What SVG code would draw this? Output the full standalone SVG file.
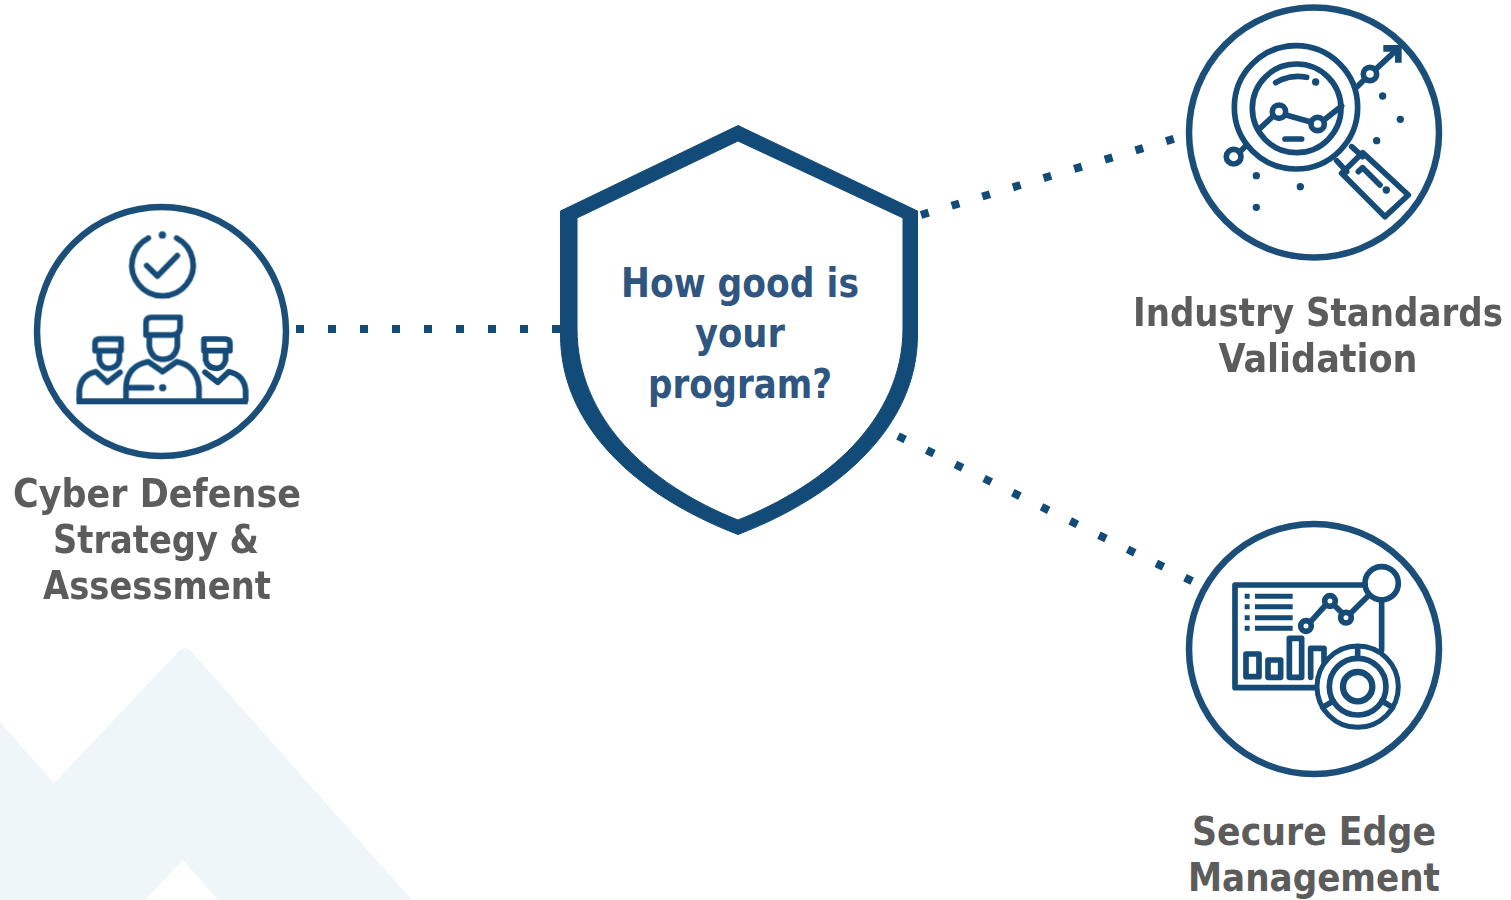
<svg xmlns="http://www.w3.org/2000/svg" width="1511" height="900" viewBox="0 0 1511 900">
<defs><filter id="soft" x="-5%" y="-5%" width="110%" height="110%"><feGaussianBlur stdDeviation="0.5"/></filter></defs>
<style>
.ring{fill:#fff;stroke:#1b4f7a;stroke-width:6.5}
.ic{fill:none;stroke:#134b78;stroke-width:17;stroke-linecap:round;stroke-linejoin:round}
.dt{fill:#134b78}
.lb{font-family:"DejaVu Sans Condensed","DejaVu Sans",sans-serif;font-stretch:condensed;font-weight:700;font-size:39px;fill:#5c5c5c;text-anchor:middle}
.tt{font-family:"DejaVu Sans Condensed","DejaVu Sans",sans-serif;font-stretch:condensed;font-weight:700;font-size:40px;fill:#2f5680;text-anchor:middle}
.cn{fill:none;stroke:#134b78;stroke-width:8;stroke-dasharray:8 24}
</style>
<rect width="1511" height="900" fill="#fff"/>
<path id="backdrop" d="M0 722L54 783L180 650Q185 646 190 650L412 900H218L183 860L145 900H0Z" fill="#eef6fa"/>
<g id="connectors">
<path class="cn" d="M296 329H562"/>
<path class="cn" d="M921 215L1180 137"/>
<path class="cn" d="M898 436L1196 583"/>
</g>
<g id="center-shield">
<path fill="#134b78" fill-rule="evenodd" stroke="#134b78" stroke-width="1" stroke-linejoin="round" d="M738 125.500L560.500 211V335C560.500 425 635 495 738 534.500C841 495 917.500 425 917.500 335V211ZM738 141L577 218V328C577 420 650 485 738 520C826 485 903 420 903 328V218Z"/>
<text class="tt" x="740" y="297" textLength="238" lengthAdjust="spacingAndGlyphs">How good is</text>
<text class="tt" x="740" y="347" textLength="90" lengthAdjust="spacingAndGlyphs">your</text>
<text class="tt" x="740" y="398" textLength="184" lengthAdjust="spacingAndGlyphs">program?</text>
</g>
<g id="node-cyber-defense">
<circle class="ring" cx="161.500" cy="331.500" r="124.500"/>
<g transform="translate(20 200) scale(.3333)" filter="url(#soft)">
<path class="ic" d="M385 114A92 92 0 1 0 470 114M380 197L412 228L472 167"/>
<circle class="dt" cx="427" cy="105" r="11"/>
<path class="ic" d="M378 405V368Q378 352 395 352H480V385Q478 405 455 405H378M388 410V440Q395 478 428 478Q465 478 472 440V405"/>
<path class="ic" d="M318 600V560Q322 497 385 485L428 515L470 485Q530 497 537 560V600"/>
<path class="ic" d="M328 563H395"/><circle class="dt" cx="428" cy="563" r="11"/>
<path class="ic" d="M225 452V430Q225 417 240 417H303V452H225M238 460V480Q245 505 265 505Q292 505 298 480V452"/>
<path class="ic" d="M178 600V572Q182 525 228 515L262 547L300 517"/>
<g transform="translate(855 0) scale(-1 1)">
<path class="ic" d="M225 452V430Q225 417 240 417H303V452H225M238 460V480Q245 505 265 505Q292 505 298 480V452"/>
<path class="ic" d="M178 600V572Q182 525 228 515L262 547L300 517"/>
</g>
<rect class="dt" x="170" y="595" width="513" height="18"/>
</g>
<text class="lb" x="157" y="507" textLength="288" lengthAdjust="spacingAndGlyphs">Cyber Defense</text>
<text class="lb" x="156" y="553" textLength="206" lengthAdjust="spacingAndGlyphs">Strategy &amp;</text>
<text class="lb" x="157" y="599" textLength="228" lengthAdjust="spacingAndGlyphs">Assessment</text>
</g>
<g id="node-industry-standards">
<circle class="ring" cx="1314" cy="132.500" r="125"/>
<g transform="translate(1180 0) scale(.3333)" filter="url(#soft)">
<circle class="ic" cx="348" cy="322" r="185"/>
<circle class="ic" cx="350" cy="325" r="133"/>
<path class="ic" d="M240 385L280 348M318 345L390 365M435 358L485 318M287 248Q330 222 380 232M315 417H365"/>
<circle class="ic" cx="297" cy="335" r="20"/><circle class="ic" cx="413" cy="372" r="20"/>
<circle class="ic" cx="161" cy="470" r="22"/><path class="ic" d="M180 455L198 437"/>
<path class="ic" d="M530 262L552 240"/><circle class="ic" cx="570" cy="222" r="20"/><path class="ic" d="M590 205L655 145"/>
<path class="ic" style="stroke-width:20;stroke-linecap:butt;stroke-linejoin:miter" d="M610 145H655V188"/>
<path class="ic" d="M515 440L548 470M470 482L500 515M548 458L685 585L615 650L485 520ZM535 515L548 503L600 555"/>
<circle class="dt" cx="407" cy="246" r="11"/><circle class="dt" cx="608" cy="288" r="11"/><circle class="dt" cx="661" cy="358" r="11"/><circle class="dt" cx="590" cy="422" r="11"/><circle class="dt" cx="229" cy="527" r="11"/><circle class="dt" cx="361" cy="560" r="11"/><circle class="dt" cx="229" cy="622" r="11"/><circle class="dt" cx="619" cy="570" r="11"/>
</g>
<text class="lb" x="1318" y="326" textLength="370" lengthAdjust="spacingAndGlyphs">Industry Standards</text>
<text class="lb" x="1318" y="372" textLength="199" lengthAdjust="spacingAndGlyphs">Validation</text>
</g>
<g id="node-secure-edge">
<circle class="ring" cx="1314" cy="649" r="125"/>
<g transform="translate(1180 515) scale(.3333)" filter="url(#soft)">
<path class="ic" d="M555 210H165V518H410M605 255V405"/>
<circle class="ic" cx="605" cy="205" r="50"/>
<path class="ic" style="stroke-width:15;stroke-linecap:butt" d="M225 244H338M225 275H338M225 308H338M225 340H338M194 244H209M194 275H209M194 308H209M194 340H209"/>
<circle class="ic" cx="378" cy="333" r="16"/><circle class="ic" cx="450" cy="258" r="16"/><circle class="ic" cx="498" cy="308" r="16"/>
<path class="ic" d="M392 320L437 270M462 270L487 295M512 295L565 242"/>
<rect class="ic" x="198" y="417" width="39" height="68"/><rect class="ic" x="264" y="435" width="38" height="52"/><rect class="ic" x="328" y="370" width="37" height="117"/><path class="ic" d="M392 487V400H432V440"/>
<circle cx="533" cy="515" r="122" fill="#fff" stroke="#134b78" stroke-width="15"/>
<circle class="ic" cx="533" cy="515" r="85"/><circle class="ic" cx="533" cy="515" r="44" style="stroke-width:19"/>
<path class="ic" d="M533 395V430M460 558L428 577M606 558L638 577"/>
</g>
<text class="lb" x="1314" y="845" textLength="244" lengthAdjust="spacingAndGlyphs">Secure Edge</text>
<text class="lb" x="1314" y="891" textLength="252" lengthAdjust="spacingAndGlyphs">Management</text>
</g>
</svg>
